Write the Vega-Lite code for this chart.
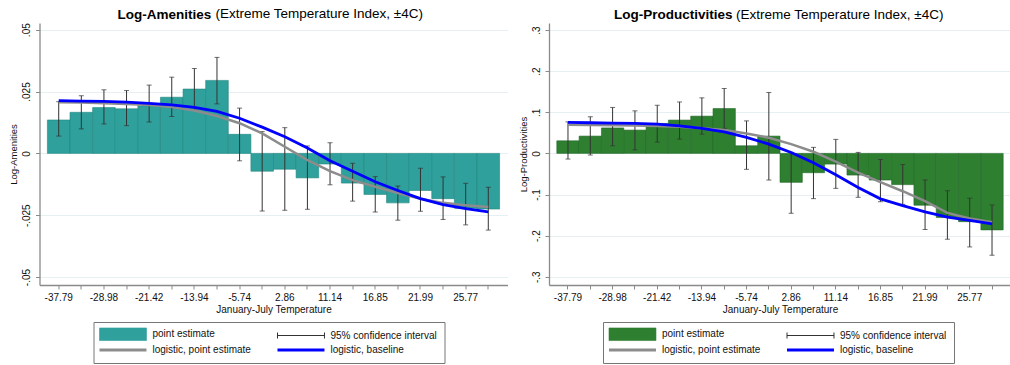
{
  "$schema": "https://vega.github.io/schema/vega-lite/v6.json",
  "padding": {"left": 7.5, "top": 7, "right": 0, "bottom": 0},
  "spacing": 9.5,
  "config": {
    "font": "Liberation Sans",
    "view": {"stroke": null},
    "axis": {
      "domainColor": "#8a8a8a", "domainWidth": 1.3, "tickColor": "#8a8a8a", "tickSize": 4,
      "labelFont": "Liberation Sans", "labelFontSize": 10, "labelColor": "#111",
      "titleFont": "Liberation Sans", "titleFontSize": 9.5, "titleFontWeight": "normal", "titleColor": "#111",
      "gridColor": "#e6eff1", "gridWidth": 1
    },
    "legend": {
      "labelFont": "Liberation Sans", "labelFontSize": 10, "labelColor": "#111", "labelLimit": 300,
      "title": null, "orient": "none", "legendX": 54, "legendY": 299, "direction": "horizontal", "columns": 2,
      "symbolSize": 144, "labelOffset": 42, "rowPadding": 2, "columnPadding": 20, "padding": 7, "strokeColor": "#777",
      "symbolOpacity": 1
    },
    "title": {
      "font": "Liberation Sans", "fontSize": 13.5, "fontWeight": "bold", "color": "#000",
      "anchor": "start", "frame": "group", "offset": 2
    }
  },
  "datasets": {
    "amen": [
      {"bin":1,"est":0.0135,"lo":0.0070,"hi":0.0209,"lpe":0.0207,"lbase":0.0213},
      {"bin":2,"est":0.0166,"lo":0.0099,"hi":0.0233,"lpe":0.0206,"lbase":0.0211},
      {"bin":3,"est":0.0185,"lo":0.0119,"hi":0.0257,"lpe":0.0203,"lbase":0.0210},
      {"bin":4,"est":0.0180,"lo":0.0112,"hi":0.0254,"lpe":0.0200,"lbase":0.0207},
      {"bin":5,"est":0.0192,"lo":0.0127,"hi":0.0276,"lpe":0.0196,"lbase":0.0202},
      {"bin":6,"est":0.0227,"lo":0.0149,"hi":0.0308,"lpe":0.0187,"lbase":0.0196},
      {"bin":7,"est":0.0260,"lo":0.0175,"hi":0.0343,"lpe":0.0173,"lbase":0.0186},
      {"bin":8,"est":0.0295,"lo":0.0200,"hi":0.0388,"lpe":0.0151,"lbase":0.0170},
      {"bin":9,"est":0.0077,"lo":-0.0030,"hi":0.0183,"lpe":0.0122,"lbase":0.0142},
      {"bin":10,"est":-0.0072,"lo":-0.0233,"hi":0.0088,"lpe":0.0081,"lbase":0.0106},
      {"bin":11,"est":-0.0064,"lo":-0.0230,"hi":0.0104,"lpe":0.0027,"lbase":0.0067},
      {"bin":12,"est":-0.0099,"lo":-0.0226,"hi":0.0030,"lpe":-0.0027,"lbase":0.0022},
      {"bin":13,"est":-0.0043,"lo":-0.0127,"hi":0.0043,"lpe":-0.0072,"lbase":-0.0030},
      {"bin":14,"est":-0.0120,"lo":-0.0193,"hi":-0.0040,"lpe":-0.0108,"lbase":-0.0072},
      {"bin":15,"est":-0.0166,"lo":-0.0237,"hi":-0.0094,"lpe":-0.0135,"lbase":-0.0115},
      {"bin":16,"est":-0.0200,"lo":-0.0270,"hi":-0.0132,"lpe":-0.0160,"lbase":-0.0150},
      {"bin":17,"est":-0.0150,"lo":-0.0234,"hi":-0.0060,"lpe":-0.0183,"lbase":-0.0183},
      {"bin":18,"est":-0.0183,"lo":-0.0267,"hi":-0.0095,"lpe":-0.0200,"lbase":-0.0207},
      {"bin":19,"est":-0.0222,"lo":-0.0289,"hi":-0.0121,"lpe":-0.0210,"lbase":-0.0223},
      {"bin":20,"est":-0.0225,"lo":-0.0310,"hi":-0.0137,"lpe":-0.0217,"lbase":-0.0236}
    ],
    "prod": [
      {"bin":1,"est":0.0306,"lo":-0.0138,"hi":0.0767,"lpe":0.0694,"lbase":0.0752},
      {"bin":2,"est":0.0420,"lo":-0.0040,"hi":0.0890,"lpe":0.0690,"lbase":0.0745},
      {"bin":3,"est":0.0620,"lo":0.0185,"hi":0.1117,"lpe":0.0686,"lbase":0.0738},
      {"bin":4,"est":0.0566,"lo":0.0087,"hi":0.1034,"lpe":0.0680,"lbase":0.0728},
      {"bin":5,"est":0.0728,"lo":0.0274,"hi":0.1170,"lpe":0.0663,"lbase":0.0710},
      {"bin":6,"est":0.0810,"lo":0.0347,"hi":0.1250,"lpe":0.0647,"lbase":0.0670},
      {"bin":7,"est":0.0905,"lo":0.0468,"hi":0.1350,"lpe":0.0614,"lbase":0.0607},
      {"bin":8,"est":0.1090,"lo":0.0607,"hi":0.1578,"lpe":0.0566,"lbase":0.0525},
      {"bin":9,"est":0.0185,"lo":-0.0388,"hi":0.0790,"lpe":0.0485,"lbase":0.0390},
      {"bin":10,"est":0.0420,"lo":-0.0648,"hi":0.1480,"lpe":0.0380,"lbase":0.0226},
      {"bin":11,"est":-0.0704,"lo":-0.1456,"hi":0.0024,"lpe":0.0226,"lbase":0.0020},
      {"bin":12,"est":-0.0470,"lo":-0.1100,"hi":0.0146,"lpe":0.0039,"lbase":-0.0230},
      {"bin":13,"est":-0.0260,"lo":-0.0850,"hi":0.0340,"lpe":-0.0200,"lbase":-0.0520},
      {"bin":14,"est":-0.0527,"lo":-0.1068,"hi":0.0024,"lpe":-0.0470,"lbase":-0.0830},
      {"bin":15,"est":-0.0648,"lo":-0.1175,"hi":-0.0150,"lpe":-0.0700,"lbase":-0.1105},
      {"bin":16,"est":-0.0760,"lo":-0.1240,"hi":-0.0270,"lpe":-0.0920,"lbase":-0.1270},
      {"bin":17,"est":-0.1260,"lo":-0.1850,"hi":-0.0645,"lpe":-0.1163,"lbase":-0.1420},
      {"bin":18,"est":-0.1560,"lo":-0.2087,"hi":-0.0908,"lpe":-0.1447,"lbase":-0.1550},
      {"bin":19,"est":-0.1660,"lo":-0.2274,"hi":-0.1090,"lpe":-0.1585,"lbase":-0.1630},
      {"bin":20,"est":-0.1860,"lo":-0.2476,"hi":-0.1255,"lpe":-0.1675,"lbase":-0.1715}
    ]
  },
  "hconcat": [
    {
      "title": {"text": "Log-Amenities", "dx": 78, "offset": -14},
      "vconcat": [
        {
          "width": 468, "height": 262,
          "title": {"text": "(Extreme Temperature Index, ±4C)", "fontWeight": "normal", "dx": 176},
          "data": {"name": "amen"},
          "encoding": {
            "x": {"field": "bin", "type": "ordinal", "scale": {"paddingInner": 0, "paddingOuter": 0.35},
              "axis": {"title": "January-July Temperature", "titleFontSize": 10, "labelAngle": 0, "labelPadding": 3, "titlePadding": 2, "grid": false,
                "labelExpr": "['-37.79','','-28.98','','-21.42','','-13.94','','-5.74','','2.86','','11.14','','16.85','','21.99','','25.77',''][datum.value - 1]"}}
          },
          "layer": [
            {
              "mark": {"type": "bar", "stroke": "#23867f", "strokeWidth": 0.6},
              "encoding": {
                "y": {"field": "est", "type": "quantitative", "scale": {"domain": [-0.0532, 0.0527], "nice": false},
                  "axis": {"title": "Log-Amenities", "values": [-0.05, -0.025, 0, 0.025, 0.05], "labelExpr": "datum.value == 0 ? '0' : (datum.value < 0 ? '-' : '') + replace(format(abs(datum.value), '~g'), '0.', '.')",
                    "labelAngle": -90, "labelAlign": "center", "labelBaseline": "bottom", "labelPadding": 4, "titlePadding": 3, "grid": true}},
                "color": {"datum": "point estimate", "type": "nominal",
                  "scale": {"domain": ["point estimate", "95% confidence interval", "logistic, point estimate", "logistic, baseline"], "range": ["#2fa09c", "#333333", "#8c8c8c", "#0000ff"]},
                  "legend": {
                    "symbolType": {"expr": "datum.value === 'point estimate' ? 'M-1,-1.05H6.83V1.05H-1Z' : datum.value === '95% confidence interval' ? 'M-1,0H6.83M-1,-0.5V0.5M6.83,-0.5V0.5' : 'M-1,0H6.83'"},
                    "symbolStrokeColor": {"expr": "datum.value === 'point estimate' ? '#23867f' : datum.value === '95% confidence interval' ? '#333333' : datum.value === 'logistic, point estimate' ? '#8c8c8c' : '#0000ff'"},
                    "symbolStrokeWidth": {"expr": "datum.value === 'point estimate' ? 0.6 : datum.value === '95% confidence interval' ? 1 : 3"}
                  }
                }
              }
            },
            {
              "mark": {"type": "rule", "strokeWidth": 1},
              "encoding": {"y": {"field": "lo", "type": "quantitative"}, "y2": {"field": "hi"}, "color": {"datum": "95% confidence interval", "type": "nominal"}}
            },
            {
              "mark": {"type": "tick", "orient": "horizontal", "size": 5, "thickness": 1, "color": "#333333"},
              "encoding": {"y": {"field": "lo", "type": "quantitative"}}
            },
            {
              "mark": {"type": "tick", "orient": "horizontal", "size": 5, "thickness": 1, "color": "#333333"},
              "encoding": {"y": {"field": "hi", "type": "quantitative"}}
            },
            {
              "mark": {"type": "line", "strokeWidth": 2.5},
              "encoding": {"y": {"field": "lpe", "type": "quantitative"}, "color": {"datum": "logistic, point estimate", "type": "nominal"}}
            },
            {
              "mark": {"type": "line", "strokeWidth": 2.8},
              "encoding": {"y": {"field": "lbase", "type": "quantitative"}, "color": {"datum": "logistic, baseline", "type": "nominal"}}
            }
          ]
        }
      ]
    },
    {
      "title": {"text": "Log-Productivities", "dx": 65, "offset": -14},
      "vconcat": [
        {
          "width": 462, "height": 262,
          "title": {"text": "(Extreme Temperature Index, ±4C)", "fontWeight": "normal", "dx": 187},
          "data": {"name": "prod"},
          "encoding": {
            "x": {"field": "bin", "type": "ordinal", "scale": {"paddingInner": 0, "paddingOuter": 0.35},
              "axis": {"title": "January-July Temperature", "titleFontSize": 10, "labelAngle": 0, "labelPadding": 3, "titlePadding": 2, "grid": false,
                "labelExpr": "['-37.79','','-28.98','','-21.42','','-13.94','','-5.74','','2.86','','11.14','','16.85','','21.99','','25.77',''][datum.value - 1]"}}
          },
          "layer": [
            {
              "mark": {"type": "bar", "stroke": "#24692a", "strokeWidth": 0.6},
              "encoding": {
                "y": {"field": "est", "type": "quantitative", "scale": {"domain": [-0.32, 0.317], "nice": false},
                  "axis": {"title": "Log-Productivities", "values": [-0.3, -0.2, -0.1, 0, 0.1, 0.2, 0.3], "labelExpr": "datum.value == 0 ? '0' : (datum.value < 0 ? '-' : '') + replace(format(abs(datum.value), '~g'), '0.', '.')",
                    "labelAngle": -90, "labelAlign": "center", "labelBaseline": "bottom", "labelPadding": 4, "titlePadding": 3, "grid": true}},
                "color": {"datum": "point estimate", "type": "nominal",
                  "scale": {"domain": ["point estimate", "95% confidence interval", "logistic, point estimate", "logistic, baseline"], "range": ["#2e7f30", "#333333", "#8c8c8c", "#0000ff"]},
                  "legend": {
                    "symbolType": {"expr": "datum.value === 'point estimate' ? 'M-1,-1.05H6.83V1.05H-1Z' : datum.value === '95% confidence interval' ? 'M-1,0H6.83M-1,-0.5V0.5M6.83,-0.5V0.5' : 'M-1,0H6.83'"},
                    "symbolStrokeColor": {"expr": "datum.value === 'point estimate' ? '#24692a' : datum.value === '95% confidence interval' ? '#333333' : datum.value === 'logistic, point estimate' ? '#8c8c8c' : '#0000ff'"},
                    "symbolStrokeWidth": {"expr": "datum.value === 'point estimate' ? 0.6 : datum.value === '95% confidence interval' ? 1 : 3"}
                  }
                }
              }
            },
            {
              "mark": {"type": "rule", "strokeWidth": 1},
              "encoding": {"y": {"field": "lo", "type": "quantitative"}, "y2": {"field": "hi"}, "color": {"datum": "95% confidence interval", "type": "nominal"}}
            },
            {
              "mark": {"type": "tick", "orient": "horizontal", "size": 5, "thickness": 1, "color": "#333333"},
              "encoding": {"y": {"field": "lo", "type": "quantitative"}}
            },
            {
              "mark": {"type": "tick", "orient": "horizontal", "size": 5, "thickness": 1, "color": "#333333"},
              "encoding": {"y": {"field": "hi", "type": "quantitative"}}
            },
            {
              "mark": {"type": "line", "strokeWidth": 2.5},
              "encoding": {"y": {"field": "lpe", "type": "quantitative"}, "color": {"datum": "logistic, point estimate", "type": "nominal"}}
            },
            {
              "mark": {"type": "line", "strokeWidth": 2.8},
              "encoding": {"y": {"field": "lbase", "type": "quantitative"}, "color": {"datum": "logistic, baseline", "type": "nominal"}}
            }
          ]
        }
      ]
    }
  ],
  "resolve": {"scale": {"color": "independent", "x": "independent", "y": "independent"}, "legend": {"color": "independent"}}
}
